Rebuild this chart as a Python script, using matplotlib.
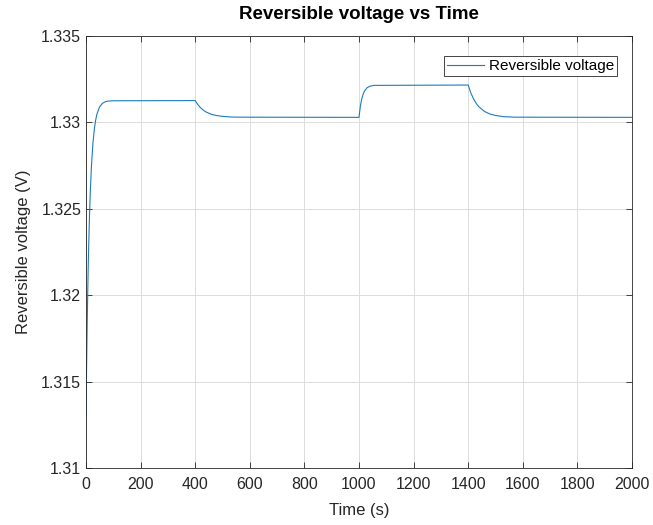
import matplotlib.pyplot as plt

plt.rcParams['font.family'] = ['Liberation Sans', 'DejaVu Sans']

# Reversible cell voltage
time_s = [0, 2, 4, 6, 8, 10, 13, 16, 20, 25, 30, 35, 40, 50, 60, 70, 80, 100, 400,
          410, 420, 430, 440, 460, 480, 500, 530, 570, 1000,
          1005, 1010, 1015, 1020, 1030, 1040, 1055, 1400,
          1410, 1420, 1430, 1440, 1460, 1480, 1500, 1530, 1570, 2000]
voltage = [1.3130, 1.31566, 1.31793, 1.31988, 1.32153, 1.32295, 1.32470, 1.32608,
           1.32748, 1.32871, 1.32954, 1.33010, 1.33048, 1.33090, 1.33110, 1.33119,
           1.33123, 1.33125, 1.33126,
           1.33102, 1.33084, 1.33070, 1.33060, 1.33046, 1.33039, 1.33035, 1.33031,
           1.33030, 1.33029,
           1.33093, 1.33135, 1.33162, 1.33181, 1.33201, 1.33209, 1.33214, 1.33216,
           1.33169, 1.33135, 1.33108, 1.33089, 1.33063, 1.33048, 1.33040, 1.33033,
           1.33030, 1.33029]

xticks = [0, 200, 400, 600, 800, 1000, 1200, 1400, 1600, 1800, 2000]
yticks = [1.31, 1.315, 1.32, 1.325, 1.33, 1.335]
ytick_labels = ['1.31', '1.315', '1.32', '1.325', '1.33', '1.335']

fig = plt.figure(figsize=(6.53, 5.25), dpi=100)
ax = fig.add_axes([0.1317, 0.1086, 0.8361, 0.8229])

ax.plot(time_s, voltage, color='#1a7cc0', linewidth=0.8, label='Reversible voltage')

ax.set_xlim(0, 2000)
ax.set_ylim(1.31, 1.335)
ax.set_xticks(xticks)
ax.set_yticks(yticks)
ax.set_yticklabels(ytick_labels)
ax.tick_params(direction='in', length=4, width=0.6, colors='#262626',
               labelsize=11.5, labelcolor='#262626', top=True, right=True,
               labeltop=False, labelright=False)
ax.tick_params(axis='x', pad=6.5)
ax.grid(True, color='#dcdcdc', linewidth=0.7)
for s in ax.spines.values():
    s.set_color('#262626')
    s.set_linewidth(0.6)

ax.set_title('Reversible voltage vs Time', fontsize=13.5, fontweight='bold', pad=12)
ax.set_xlabel('Time (s)', fontsize=12, color='#262626', labelpad=8)
ax.set_ylabel('Reversible voltage (V)', fontsize=12, color='#262626', labelpad=7.5)

leg = ax.legend(loc='upper right', bbox_to_anchor=(0.9725, 0.954), fontsize=11,
                fancybox=False, framealpha=1, edgecolor='#262626',
                borderpad=0.2, handlelength=2.4, handletextpad=0.3,
                borderaxespad=0)
leg.get_frame().set_linewidth(0.6)

fig.savefig('out.png', dpi=100)
